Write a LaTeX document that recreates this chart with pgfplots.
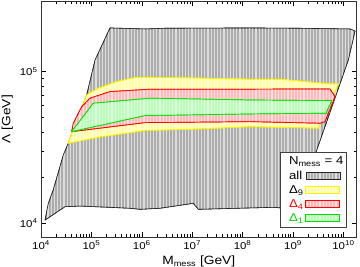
\documentclass[border=0pt]{standalone}
\usepackage{pgfplots}
\pgfplotsset{compat=1.18}
\usetikzlibrary{patterns.meta}
\usepackage{fontspec}
\setmainfont{Liberation Sans}[FakeStretch=1.15]
\definecolor{greyfill}{RGB}{172,172,172}
\definecolor{greystripe}{RGB}{222,222,222}
\definecolor{yelfill}{RGB}{255,255,165}
\definecolor{redfill}{RGB}{255,185,185}
\definecolor{grnfill}{RGB}{185,255,185}
\definecolor{grnline}{RGB}{0,225,0}
\definecolor{grntext}{RGB}{0,220,0}
\begin{document}
\begin{tikzpicture}
\begin{axis}[
  at={(41bp,29.7bp)}, anchor=south west,
  scale only axis, width=315.5bp, height=236.3bp,
  xmode=log, ymode=log,
  xmin=1e4, xmax=1.82e10, ymin=8.09e3, ymax=2.92e5,
  xtick={1e4,1e5,1e6,1e7,1e8,1e9,1e10},
  xticklabels={10\textsuperscript{4},10\textsuperscript{5},10\textsuperscript{6},10\textsuperscript{7},10\textsuperscript{8},10\textsuperscript{9},10\textsuperscript{10}},
  ytick={1e4,1e5},
  yticklabels={10\textsuperscript{4},10\textsuperscript{5}},
  ticklabel style={font=\fontsize{10}{11}\selectfont},
  label style={font=\fontsize{12}{13}\selectfont},
  xlabel={M\textsubscript{mess} [GeV]},
  ylabel={Λ [GeV]},
  major tick length=5bp, minor tick length=3bp,
  tick style={black, line width=0.5pt},
  axis line style={black!80, line width=0.6pt},
  legend plot pos=right, legend cell align=left,
  legend style={at={(rel axis cs:0.970,0.039)}, anchor=south east,
    draw=black!75, fill=white, line width=0.6pt,
    font=\fontsize{11.5}{12}\selectfont, inner xsep=6.5bp, inner ysep=3bp, row sep=0.6bp,
    nodes={inner sep=2bp}},
  legend image code/.code={\draw[#1] (0bp,-3.5bp) rectangle (34bp,3.5bp);},
]
\addlegendimage{empty legend}
\addlegendentry{\makebox[0pt][l]{N\textsubscript{mess} = 4}}

\addplot[draw=black!85, line width=0.6pt, fill=greyfill,
  postaction={pattern={Lines[angle=90,distance=3.2bp,line width=1.1bp]}, pattern color=greystripe}]
coordinates {
(1.20e4,1.05e4) (1.40e4,1.355e4) (1.75e4,1.66e4) (2.77e4,2.82e4) (3.48e4,3.37e4)
(8.07e4,7.02e4) (1.18e5,1.19e5) (2.34e5,1.94e5) (1.16e6,1.91e5) (2.88e6,1.93e5)
(1.40e8,1.94e5) (1.38e9,1.93e5) (1.35e10,1.91e5) (1.70e10,1.85e5) (1.25e10,1.19e5)
(2.73e9,2.82e4) (1.20e9,1.24e4) (4.06e8,1.275e4) (1.32e7,1.237e4) (1.05e7,1.355e4)
(2.30e6,1.257e4) (9.2e5,1.237e4) (5.83e5,1.257e4) (5.94e4,1.30e4) (2.99e4,1.287e4)
(1.20e4,1.05e4)
};
\addlegendentry{all}

\addplot[draw=yellow, line width=0.8pt, fill=yelfill,
  postaction={pattern={Lines[angle=90,distance=3.2bp,line width=1.1bp]}, pattern color=white!60!yelfill}]
coordinates {
(3.48e4,3.37e4) (5.42e4,5.02e4) (8.07e4,7.02e4) (1.37e5,7.76e4) (3.18e5,8.59e4)
(7.93e5,9.18e4) (5.73e6,9.12e4) (1.40e8,8.91e4) (5.52e8,8.91e4) (5.42e9,8.30e4)
(7.93e9,8.30e4) (3.18e9,4.24e4) (1.40e8,4.34e4) (1.43e7,4.19e4) (1.16e6,4.09e4)
(1.48e5,3.71e4) (3.48e4,3.37e4)
};
\addlegendentry{Δ\textsubscript{9}}

\addplot[draw=red, line width=0.7pt, fill=redfill,
  postaction={pattern={Lines[angle=90,distance=3.2bp,line width=1.1bp]}, pattern color=white!55!redfill}]
coordinates {
(4.06e4,4.02e4) (4.38e4,4.57e4) (6.43e4,5.88e4) (9.38e4,6.68e4) (2.34e5,7.38e4)
(1.46e6,7.66e4) (1.40e8,7.66e4) (5.42e9,7.69e4) (6.81e9,6.84e4) (4.32e9,4.68e4)
(3.43e9,4.57e4) (1.40e8,4.68e4) (1.16e6,4.61e4) (4.06e4,4.02e4)
};
\addlegendentry{\textcolor{red}{Δ\textsubscript{4}}}

\addplot[draw=grnline, line width=0.7pt, fill=grnfill,
  postaction={pattern={Lines[angle=90,distance=3.2bp,line width=1.1bp]}, pattern color=white!55!grnfill}]
coordinates {
(4.06e4,4.02e4) (1.09e5,6.19e4) (1.46e6,6.68e4) (1.40e8,6.50e4) (5.86e9,6.44e4)
(4.67e9,5.45e4) (4.67e9,5.32e4) (1.40e8,5.26e4) (1.16e6,5.13e4) (4.06e4,4.02e4)
};
\addlegendentry{\textcolor{grntext}{Δ\textsubscript{1}}}
\end{axis}
\pgfresetboundingbox
\useasboundingbox (0,0) rectangle (360bp,267bp);
\end{tikzpicture}
\end{document}
